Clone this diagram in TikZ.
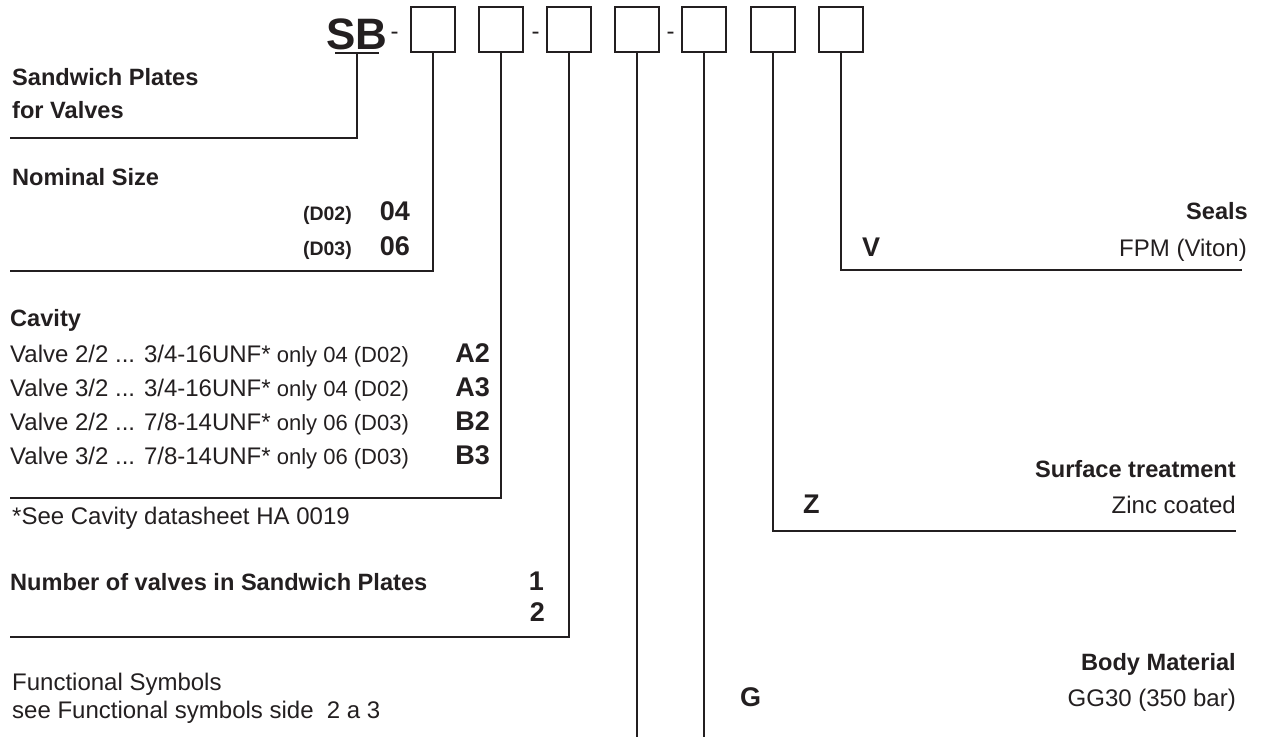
\documentclass[tikz,border=0pt]{standalone}
\usepackage{fontspec}
\setmainfont{Liberation Sans}
\definecolor{ink}{HTML}{231F20}
\begin{document}
\begin{tikzpicture}[x=1pt,y=-1pt,
  lbl/.style={inner sep=0, text=ink, font=\fontsize{23.6}{28}\selectfont\bfseries},
  txt/.style={inner sep=0, text=ink, font=\fontsize{24}{28}\selectfont},
  small/.style={inner sep=0, text=ink, font=\fontsize{19.5}{22}\selectfont\bfseries},
  code/.style={inner sep=0, text=ink, font=\fontsize{27}{30}\selectfont\bfseries},
  codebox/.style={draw=ink, line width=1.8, minimum width=44, minimum height=45, inner sep=0},
  ln/.style={draw=ink, line width=1.3}]
\useasboundingbox (0,0) rectangle (1263,737);

% header
\node[inner sep=0, text=ink, anchor=base, font=\fontsize{44}{48}\selectfont\bfseries] (sb) at (357,49.5) {SB};
\node[txt, anchor=base] (d1) at (394.5,39.5) {-};
\node[codebox] (b1) at (433,29.5) {};
\node[codebox] (b2) at (501,29.5) {};
\node[txt, anchor=base] (d2) at (535.5,39.5) {-};
\node[codebox] (b3) at (569,29.5) {};
\node[codebox] (b4) at (637,29.5) {};
\node[txt, anchor=base] (d3) at (670.5,39.5) {-};
\node[codebox] (b5) at (704,29.5) {};
\node[codebox] (b6) at (773,29.5) {};
\node[codebox] (b7) at (841,29.5) {};

\coordinate (ul) at (335,53);
\coordinate (ur) at (379,53);
\coordinate (sbt) at (357,53);
\draw[ln] (ul) -- (ur);

% line ends
\coordinate (e0) at (10,138);
\coordinate (e1) at (10,271);
\coordinate (e2) at (10,498);
\coordinate (e3) at (10,637);
\coordinate (bot) at (0,737);
\coordinate (e6) at (1236,531);
\coordinate (e7) at (1242,270);

\draw[ln] (sbt) |- (e0);
\draw[ln] (b1.south) |- (e1);
\draw[ln] (b2.south) |- (e2);
\draw[ln] (b3.south) |- (e3);
\draw[ln] (b4.south) -- (b4.south |- bot);
\draw[ln] (b5.south) -- (b5.south |- bot);
\draw[ln] (b6.south) |- (e6);
\draw[ln] (b7.south) |- (e7);

% left column
\node[lbl, anchor=base west] (t1) at (12,85) {Sandwich Plates};
\node[lbl, anchor=base west] (t2) at (12,118) {for Valves};

\node[lbl, anchor=base west] (t3) at (12,185) {Nominal Size};
\node[small, anchor=base east] (n1) at (352,220) {(D02)};
\node[code, anchor=base east] (c1) at (410,220) {04};
\node[small, anchor=base east] (n2) at (352,255) {(D03)};
\node[code, anchor=base east] (c2) at (410,255) {06};

\node[lbl, anchor=base west] (t4) at (10,326) {Cavity};
\node[txt, anchor=base west] (r1) at (10,362) {Valve 2/2 ... 3/4-16UNF*{\fontsize{22}{24}\selectfont\ only 04 (D02)}};
\node[txt, anchor=base west] (r2) at (10,396) {Valve 3/2 ... 3/4-16UNF*{\fontsize{22}{24}\selectfont\ only 04 (D02)}};
\node[txt, anchor=base west] (r3) at (10,430) {Valve 2/2 ... 7/8-14UNF*{\fontsize{22}{24}\selectfont\ only 06 (D03)}};
\node[txt, anchor=base west] (r4) at (10,464) {Valve 3/2 ... 7/8-14UNF*{\fontsize{22}{24}\selectfont\ only 06 (D03)}};
\node[code, anchor=base east] (a2) at (490,362) {A2};
\node[code, anchor=base east] (a3) at (490,396) {A3};
\node[code, anchor=base east] (bb2) at (490,430) {B2};
\node[code, anchor=base east] (bb3) at (490,464) {B3};
\node[txt, anchor=base west] (fn) at (12,524) {*See Cavity datasheet HA 0019};

\node[lbl, anchor=base west] (t5) at (10,590) {Number of valves in Sandwich Plates};
\node[code, anchor=base east] (k1) at (544,590) {1};
\node[code, anchor=base east] (k2) at (545,621) {2};

\node[txt, anchor=base west] (f1) at (12,690) {Functional Symbols};
\node[txt, anchor=base west] (f2) at (12,718) {see Functional symbols side\ \ 2 a 3};

% right column
\node[lbl, anchor=base east] (s1) at (1248,219) {Seals};
\node[code, anchor=base west] (sv) at (862,256) {V};
\node[txt, anchor=base east] (s2) at (1247,256) {FPM (Viton)};

\node[lbl, anchor=base east] (z1) at (1236,477) {Surface treatment};
\node[code, anchor=base west] (zz) at (803,513) {Z};
\node[txt, anchor=base east] (z2) at (1236,513) {Zinc coated};

\node[lbl, anchor=base east] (g1) at (1236,670) {Body Material};
\node[code, anchor=base west] (gg) at (740,706) {G};
\node[txt, anchor=base east] (g2) at (1236,706) {GG30 (350 bar)};
\end{tikzpicture}
\end{document}
